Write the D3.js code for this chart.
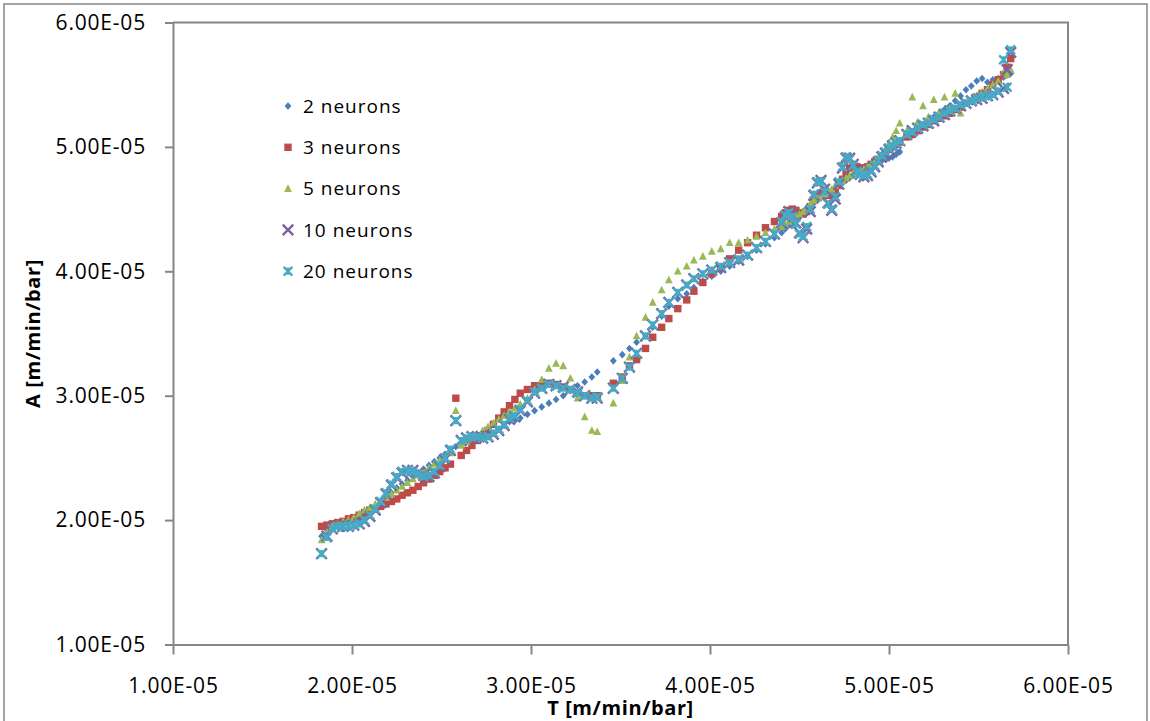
<!DOCTYPE html>
<html>
<head>
<meta charset="utf-8">
<script src="https://cdn.jsdelivr.net/npm/d3@7"></script>
<style>
  body { margin: 0; background: #fff; }
  svg { display: block; }
  text { font-family: "Open Sans", sans-serif; fill: #000; }
</style>
</head>
<body>
<svg id="chart" width="1150" height="721"></svg>
<script>
// values are in units of 1e-5 m/min/bar
const UNIT = 1e-5;

const tValues = [
  1.83,1.86,1.89,1.92,1.95,1.98,2.01,2.04,2.07,2.10,2.13,2.16,2.19,2.22,2.25,2.28,2.31,2.34,2.37,2.40,2.43,2.46,2.49,2.52,2.55,2.58,2.61,2.64,2.67,2.70,2.73,2.76,2.79,2.82,2.85,2.88,
  2.91,2.94,2.98,3.02,3.06,3.10,3.14,3.18,3.22,3.26,3.30,3.34,3.37,
  3.46,3.51,3.55,3.59,3.64,3.68,3.73,3.77,3.82,3.87,3.91,3.96,4.01,4.06,4.11,4.16,4.21,4.26,4.31,4.36,
  4.40,4.42,4.44,4.46,4.48,4.50,4.52,4.54,4.56,4.58,4.60,4.62,4.64,4.66,4.68,4.70,4.72,4.74,4.76,4.78,4.80,4.82,4.84,4.86,4.88,4.90,4.92,4.94,4.96,4.98,5.00,5.02,5.04,5.06,
  5.10,5.13,5.16,5.19,5.22,5.25,5.28,5.31,5.34,5.37,5.40,5.43,5.46,5.49,5.52,5.55,5.58,5.61,5.64,5.66,5.68
];

const a2neurons = [
  1.87,1.92,1.95,1.96,1.96,1.97,1.98,2.00,2.03,2.06,2.10,2.14,2.18,2.22,2.26,2.29,2.32,2.35,2.38,2.41,2.44,2.47,2.50,2.53,2.56,2.59,2.61,2.63,2.64,2.65,2.66,2.68,2.70,2.73,2.76,2.79,
  2.80,2.82,2.85,2.88,2.91,2.94,2.97,3.00,3.04,3.08,3.11,3.15,3.19,
  3.28,3.33,3.38,3.43,3.48,3.55,3.64,3.72,3.78,3.82,3.87,3.92,3.96,4.00,4.04,4.08,4.12,4.17,4.22,4.27,
  4.31,4.34,4.37,4.40,4.43,4.46,4.48,4.50,4.52,4.55,4.57,4.59,4.61,4.63,4.65,4.67,4.69,4.71,4.73,4.75,4.77,4.79,4.81,4.83,4.85,4.86,4.87,4.88,4.89,4.90,4.91,4.92,4.94,4.96,
  5.09,5.12,5.15,5.18,5.21,5.24,5.27,5.30,5.33,5.37,5.41,5.46,5.49,5.53,5.55,5.52,5.54,5.55,5.56,5.58,5.59
];

const a3neurons = [
  1.95,1.96,1.97,1.98,1.99,2.01,2.02,2.04,2.06,2.08,2.09,2.11,2.13,2.15,2.17,2.20,2.22,2.24,2.27,2.30,2.33,2.36,2.39,2.42,2.45,2.98,2.52,2.56,2.60,2.64,2.68,2.72,2.77,2.82,2.87,2.92,
  2.97,3.02,3.05,3.08,3.08,3.10,3.09,3.07,3.05,3.02,3.00,3.00,3.00,
  3.10,3.15,3.24,3.29,3.38,3.47,3.55,3.62,3.70,3.77,3.84,3.91,3.98,4.03,4.10,4.17,4.23,4.29,4.35,4.40,
  4.44,4.47,4.49,4.50,4.49,4.47,4.46,4.48,4.52,4.57,4.61,4.63,4.62,4.61,4.62,4.65,4.69,4.74,4.79,4.83,4.84,4.84,4.83,4.83,4.84,4.86,4.88,4.90,4.93,4.95,4.98,5.00,5.02,5.04,
  5.08,5.10,5.13,5.16,5.18,5.21,5.23,5.25,5.27,5.30,5.32,5.35,5.37,5.40,5.43,5.46,5.50,5.54,5.58,5.64,5.71
];

const a5neurons = [
  1.84,1.90,1.95,1.97,1.99,2.00,2.02,2.05,2.08,2.10,2.13,2.15,2.18,2.21,2.24,2.27,2.30,2.33,2.36,2.39,2.42,2.45,2.48,2.51,2.54,2.88,2.60,2.63,2.66,2.69,2.72,2.75,2.78,2.81,2.84,2.87,
  2.90,2.93,2.98,3.05,3.13,3.22,3.26,3.24,3.14,2.98,2.83,2.72,2.71,
  2.94,3.12,3.31,3.48,3.63,3.75,3.85,3.93,4.00,4.04,4.09,4.12,4.16,4.18,4.23,4.23,4.25,4.28,4.31,4.34,
  4.36,4.38,4.40,4.42,4.44,4.46,4.48,4.51,4.54,4.57,4.59,4.60,4.62,4.64,4.66,4.69,4.71,4.73,4.75,4.77,4.79,4.80,4.81,4.82,4.84,4.86,4.88,4.91,4.94,4.98,5.03,5.08,5.13,5.19,
  5.13,5.40,5.20,5.33,5.24,5.38,5.28,5.40,5.31,5.43,5.27,5.36,5.38,5.41,5.44,5.47,5.50,5.53,5.60,5.58,5.62
];

const a10neurons = [
  1.73,1.87,1.93,1.95,1.95,1.95,1.96,1.97,1.99,2.03,2.08,2.14,2.21,2.28,2.34,2.38,2.40,2.40,2.38,2.36,2.35,2.38,2.43,2.49,2.56,2.80,2.64,2.66,2.67,2.67,2.66,2.67,2.69,2.72,2.76,2.81,
  2.83,2.88,2.95,3.02,3.06,3.09,3.08,3.07,3.05,3.03,3.00,2.98,2.98,
  3.06,3.14,3.23,3.34,3.48,3.57,3.66,3.75,3.83,3.89,3.94,3.98,4.01,4.03,4.07,4.09,4.13,4.19,4.24,4.30,
  4.39,4.44,4.48,4.45,4.39,4.31,4.27,4.34,4.48,4.61,4.71,4.73,4.66,4.55,4.49,4.58,4.70,4.83,4.91,4.91,4.86,4.81,4.78,4.76,4.77,4.80,4.84,4.88,4.92,4.95,4.98,5.01,5.03,5.05,
  5.10,5.13,5.15,5.17,5.19,5.21,5.24,5.26,5.29,5.31,5.33,5.35,5.37,5.38,5.39,5.41,5.42,5.44,5.47,5.62,5.76
];

const a20neurons = [
  1.73,1.86,1.93,1.95,1.95,1.95,1.96,1.97,2.00,2.04,2.09,2.15,2.22,2.29,2.35,2.39,2.40,2.39,2.37,2.35,2.36,2.39,2.44,2.50,2.57,2.80,2.64,2.66,2.67,2.67,2.66,2.67,2.70,2.73,2.77,2.82,
  2.84,2.89,2.96,3.03,3.06,3.09,3.08,3.06,3.05,3.02,3.00,2.98,2.99,
  3.06,3.14,3.23,3.34,3.48,3.57,3.66,3.75,3.83,3.89,3.94,3.98,4.01,4.04,4.07,4.10,4.13,4.19,4.24,4.30,
  4.40,4.45,4.47,4.44,4.38,4.30,4.28,4.36,4.50,4.62,4.72,4.72,4.64,4.54,4.50,4.60,4.72,4.84,4.92,4.90,4.85,4.80,4.78,4.77,4.78,4.81,4.85,4.89,4.93,4.96,4.99,5.01,5.03,5.05,
  5.10,5.12,5.15,5.18,5.19,5.22,5.24,5.27,5.29,5.31,5.34,5.35,5.37,5.39,5.40,5.41,5.42,5.45,5.70,5.48,5.78
];

const seriesNames = ["2 neurons", "3 neurons", "5 neurons", "10 neurons", "20 neurons"];
const seriesValues = [a2neurons, a3neurons, a5neurons, a10neurons, a20neurons];
const seriesColors = ["#4a7ebb", "#be4b48", "#98b954", "#7d60a0", "#46aac5"];
const seriesShapes = ["diamond", "square", "triangle", "cross", "star"];

const xTicks = [1, 2, 3, 4, 5, 6];
const yTicks = [1, 2, 3, 4, 5, 6];

const W = 1150, H = 721;
const plot = { left: 173, top: 22.5, right: 1068, bottom: 644.5 };
const axisGrey = "#868686";

const svg = d3.select("#chart");

const x = d3.scaleLinear().domain([1 * UNIT, 6 * UNIT]).range([plot.left, plot.right]);
const y = d3.scaleLinear().domain([1 * UNIT, 6 * UNIT]).range([plot.bottom, plot.top]);

function sci(v) {
  return d3.format(".2e")(v).replace(/e([+-])(\d+)/, (m, s, d) => "E" + s + d.padStart(2, "0"));
}

// chart area border
svg.append("rect")
  .attr("x", 4).attr("y", 4)
  .attr("width", W - 7).attr("height", H + 20)
  .attr("fill", "none")
  .attr("stroke", axisGrey)
  .attr("stroke-width", 1.5);

// plot area frame (top and right)
svg.append("path")
  .attr("d", `M${plot.left},${plot.top}H${plot.right}V${plot.bottom}`)
  .attr("fill", "none")
  .attr("stroke", axisGrey)
  .attr("stroke-width", 2);

// axes
const yAxis = svg.append("g")
  .attr("transform", `translate(${plot.left},0)`)
  .call(d3.axisLeft(y).tickValues(yTicks.map(d => d * UNIT)).tickSize(8).tickSizeOuter(0).tickPadding(19).tickFormat(sci));

const xAxis = svg.append("g")
  .attr("transform", `translate(0,${plot.bottom})`)
  .call(d3.axisBottom(x).tickValues(xTicks.map(d => d * UNIT)).tickSize(10).tickSizeOuter(0).tickPadding(24).tickFormat(sci));

[xAxis, yAxis].forEach(g => {
  g.select(".domain").attr("stroke", axisGrey).attr("stroke-width", 2);
  g.selectAll(".tick line").attr("stroke", axisGrey).attr("stroke-width", 2);
  g.selectAll(".tick text")
    .attr("fill", "#000")
    .style("font-family", '"Open Sans", sans-serif')
    .style("font-size", "21px")
    .style("letter-spacing", "0.8px");
});

// axis titles
svg.append("text")
  .attr("x", (plot.left + plot.right) / 2)
  .attr("y", 715)
  .attr("text-anchor", "middle")
  .style("font-size", "20px")
  .style("font-weight", "bold")
  .style("letter-spacing", "0.6px")
  .text("T [m/min/bar]");

svg.append("text")
  .attr("transform", `translate(40,${(plot.top + plot.bottom) / 2}) rotate(-90)`)
  .attr("text-anchor", "middle")
  .style("font-size", "20px")
  .style("font-weight", "bold")
  .style("letter-spacing", "0.6px")
  .text("A [m/min/bar]");

// markers
function drawMarker(g, shape, color) {
  if (shape === "diamond") {
    g.append("path").attr("d", "M0,-3.8L3.4,0L0,3.8L-3.4,0Z").attr("fill", color);
  } else if (shape === "square") {
    g.append("rect").attr("x", -3.7).attr("y", -3.7).attr("width", 7.4).attr("height", 7.4).attr("fill", color);
  } else if (shape === "triangle") {
    g.append("path").attr("d", "M0,-4.3L3.9,3.3L-3.9,3.3Z").attr("fill", color);
  } else if (shape === "cross") {
    g.append("path").attr("d", "M-5.3,-5.3L5.3,5.3M-5.3,5.3L5.3,-5.3")
      .attr("stroke", color).attr("stroke-width", 2.4).attr("fill", "none");
  } else if (shape === "star") {
    g.append("path").attr("d", "M-4.4,-4.4L4.4,4.4M-4.4,4.4L4.4,-4.4M0,-3.6V3.6")
      .attr("stroke", color).attr("stroke-width", 2.4).attr("fill", "none");
  }
}

const pointsLayer = svg.append("g").attr("class", "points");
seriesValues.forEach((vals, si) => {
  const data = tValues.map((t, i) => ({ t: t * UNIT, a: vals[i] * UNIT }));
  const g = pointsLayer.append("g").attr("class", "series");
  g.selectAll("g.pt")
    .data(data)
    .join("g")
    .attr("class", "pt")
    .attr("transform", d => `translate(${x(d.t)},${y(d.a)})`)
    .each(function () { drawMarker(d3.select(this), seriesShapes[si], seriesColors[si]); });
});

// legend
const legend = svg.append("g").attr("class", "legend");
seriesNames.forEach((name, i) => {
  const ry = 106 + i * 41.3;
  const m = legend.append("g").attr("transform", `translate(288,${ry})`);
  drawMarker(m, seriesShapes[i], seriesColors[i]);
  legend.append("text")
    .attr("x", 303)
    .attr("y", ry)
    .attr("dy", "0.35em")
    .style("font-size", "19px")
    .style("letter-spacing", "1px")
    .text(name);
});
</script>
</body>
</html>
